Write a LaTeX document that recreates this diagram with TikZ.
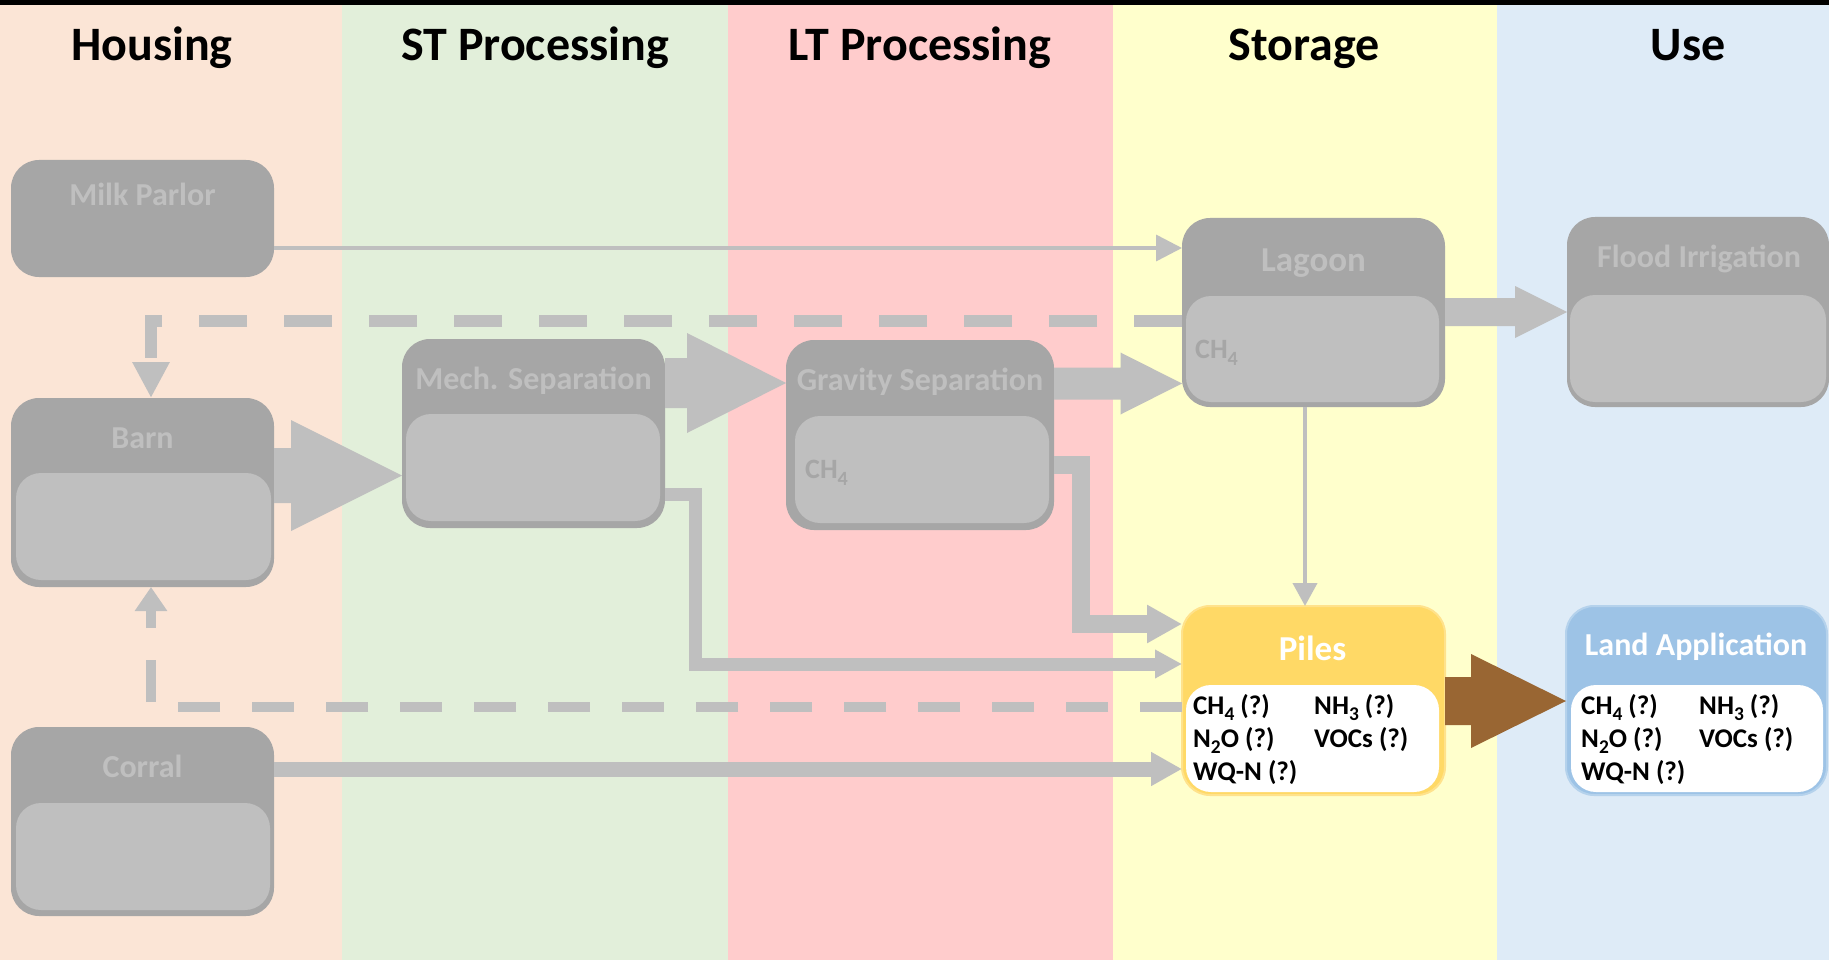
\documentclass[tikz,border=0pt]{standalone}
\usepackage{fontspec}
\setmainfont{Carlito}
\usetikzlibrary{arrows.meta,calc}

% lane and box colours
\definecolor{housingbg}{HTML}{FBE5D6}
\definecolor{stbg}{HTML}{E2EFDA}
\definecolor{ltbg}{HTML}{FFCCCC}
\definecolor{storbg}{HTML}{FFFFCC}
\definecolor{usebg}{HTML}{DEEBF7}
\definecolor{boxdark}{HTML}{A6A6A6}
\definecolor{boxlight}{HTML}{BFBFBF}
\definecolor{arrowgray}{HTML}{BFBFBF}
\definecolor{pilegold}{HTML}{FFD966}
\definecolor{landblue}{HTML}{9DC3E6}
\definecolor{manure}{HTML}{996633}

% chemical subscript, lowered like the slide text
\newcommand\chemsub[1]{\raisebox{-0.25em}{\scalebox{0.72}{#1}}}

\tikzset{
  outerbox/.style={rectangle, rounded corners=28pt, fill=boxdark, inner sep=0pt, outer sep=0pt},
  innerbox/.style={rectangle, rounded corners=25pt, fill=boxlight, inner sep=0pt, outer sep=0pt},
  lanetitle/.style={font=\fontsize{48}{58}\selectfont\bfseries, anchor=base, inner sep=0pt, text=black},
  boxtitle/.style={font=\fontsize{32}{38}\selectfont\bfseries, anchor=base, inner sep=0pt, text=boxlight},
  gasnote/.style={font=\fontsize{28}{33}\selectfont\bfseries, anchor=base west, inner sep=0pt, text=boxdark},
  emis/.style={font=\fontsize{27}{32}\selectfont\bfseries, anchor=base west, inner sep=0pt, text=black},
  flow/.style={draw=arrowgray, line join=miter, line cap=butt},
}

% wide block arrow from the east side of #2 to the west side of #3
% #1 colour, #4 axis y, #5 half shaft, #6 half head, #7 head length
\newcommand\blockflow[7]{%
  \path (#2.east |- 0,#4) coordinate (bf-a) (#3.west |- 0,#4) coordinate (bf-b);
  \fill[#1] ($(bf-a)+(0,-#5)$) -- ($(bf-b)+(-#7,-#5)$) -- ($(bf-b)+(-#7,-#6)$) -- (bf-b)
    -- ($(bf-b)+(-#7,#6)$) -- ($(bf-b)+(-#7,#5)$) -- ($(bf-a)+(0,#5)$) -- cycle;}

\begin{document}
\begin{tikzpicture}[x=1pt,y=-1pt]
\useasboundingbox (0,0) rectangle (1829,960);

% lanes
\fill[housingbg] (0,0) rectangle (342,960);
\fill[stbg] (342,0) rectangle (728,960);
\fill[ltbg] (728,0) rectangle (1113,960);
\fill[storbg] (1113,0) rectangle (1497,960);
\fill[usebg] (1497,0) rectangle (1829,960);
\fill[black] (0,0) rectangle (1829,5);

\node[lanetitle] (h-housing) at (152,61) {Housing};
\node[lanetitle] (h-st) at (535,61) {ST Processing};
\node[lanetitle] (h-lt) at (920,61) {LT Processing};
\node[lanetitle] (h-storage) at (1304,61) {Storage};
\node[lanetitle] (h-use) at (1688,61) {Use};

% housing
\node[outerbox, minimum width=263pt, minimum height=117pt] (milk) at (142.5,218.5) {};
\node[boxtitle] (milk-t) at (142.5,206) {Milk Parlor};

\node[outerbox, minimum width=263pt, minimum height=189pt] (barn) at (142.5,492.5) {};
\node[innerbox, minimum width=255pt, minimum height=107pt] (barn-in) at (143.5,526.5) {};
\node[boxtitle] (barn-t) at (142.5,448) {Barn};

\node[outerbox, minimum width=263pt, minimum height=189pt] (corral) at (142.5,821.5) {};
\node[innerbox, minimum width=254pt, minimum height=107pt] (corral-in) at (143,856.5) {};
\node[boxtitle] (corral-t) at (142.5,777) {Corral};

% processing
\node[outerbox, minimum width=263pt, minimum height=189pt] (mech) at (533.5,433.5) {};
\node[innerbox, minimum width=254pt, minimum height=107pt] (mech-in) at (533,467.5) {};
\node[boxtitle] (mech-t) at (533.5,389) {Mech. Separation};

\node[outerbox, minimum width=268pt, minimum height=190pt] (grav) at (920,435) {};
\node[innerbox, minimum width=254pt, minimum height=107pt] (grav-in) at (922,469.5) {};
\node[boxtitle] (grav-t) at (920,390) {Gravity Separation};
\node[gasnote] (grav-g) at (805,478) {CH\chemsub{4}};

% storage
\node[outerbox, minimum width=263pt, minimum height=189pt] (lagoon) at (1313.5,312.5) {};
\node[innerbox, minimum width=253pt, minimum height=106pt] (lagoon-in) at (1312.5,349) {};
\node[boxtitle, font=\fontsize{35}{42}\selectfont\bfseries] (lagoon-t) at (1313.5,272) {Lagoon};
\node[gasnote] (lagoon-g) at (1195,358) {CH\chemsub{4}};

\node[outerbox, fill=pilegold, draw=pilegold!75!white, line width=2pt, minimum width=263pt, minimum height=189pt] (piles) at (1313.5,700.5) {};
\node[innerbox, fill=white, minimum width=253pt, minimum height=107pt] (piles-in) at (1312.5,738.5) {};
\node[boxtitle, text=white, font=\fontsize{35}{42}\selectfont\bfseries] (piles-t) at (1312.5,660) {Piles};
\node[emis] (p1) at (1193,714) {CH\chemsub{4} (?)};
\node[emis] (p2) at (1314,714) {NH\chemsub{3} (?)};
\node[emis] (p3) at (1193,747) {N\chemsub{2}O (?)};
\node[emis] (p4) at (1314,747) {VOCs (?)};
\node[emis] (p5) at (1193,780) {WQ-N (?)};

% use
\node[outerbox, minimum width=262pt, minimum height=190pt] (flood) at (1698,312) {};
\node[innerbox, minimum width=256pt, minimum height=107pt] (flood-in) at (1698,348.5) {};
\node[boxtitle] (flood-t) at (1699,268) {Flood Irrigation};

\node[outerbox, fill=landblue, draw=landblue!75!white, line width=2pt, minimum width=261pt, minimum height=189pt] (land) at (1696.5,700.5) {};
\node[innerbox, fill=white, minimum width=252pt, minimum height=107pt] (land-in) at (1697,738.5) {};
\node[boxtitle, text=white] (land-t) at (1696,655) {Land Application};
\node[emis] (l1) at (1581,714) {CH\chemsub{4} (?)};
\node[emis] (l2) at (1699,714) {NH\chemsub{3} (?)};
\node[emis] (l3) at (1581,747) {N\chemsub{2}O (?)};
\node[emis] (l4) at (1699,747) {VOCs (?)};
\node[emis] (l5) at (1581,780) {WQ-N (?)};

% main block flows
\blockflow{arrowgray}{barn}{mech}{475.5}{27.5}{55.5}{111}
\blockflow{arrowgray}{mech}{grav}{383}{25}{50}{99}
\blockflow{arrowgray}{grav}{lagoon}{383.5}{16}{31}{61.5}
\blockflow{arrowgray}{lagoon}{flood}{312}{14}{26}{52}
\blockflow{manure}{piles}{land}{701}{24}{47}{95}

% line flows
\draw[flow, line width=3.5pt, -{Triangle[length=26pt,width=26pt]}]
  (milk.east |- 0,248) -- (lagoon.west |- 0,248);
\draw[flow, line width=4pt, -{Triangle[length=23pt,width=24pt]}]
  (lagoon.south -| 1305,0) -- (piles.north -| 1305,0);
\draw[flow, line width=18pt, -{Triangle[length=35pt,width=36pt]}]
  (grav.east |- 0,465) -| (1081,624) -- (piles.west |- 0,624);
\draw[flow, line width=13pt, -{Triangle[length=27pt,width=27pt]}]
  (mech.east |- 0,494) -| (695,664) -- (piles.west |- 0,664);
\draw[flow, line width=15pt, -{Triangle[length=31pt,width=32pt]}]
  (corral.east |- 0,769) -- (piles.west |- 0,769);

% return flows to the barn
\draw[flow, line width=12pt, dash pattern=on 48pt off 37pt, -{Triangle[length=36pt,width=35pt]}]
  (lagoon.west |- 0,321) -| (barn.north -| 151,0);
\draw[flow, line width=10.5pt, dash pattern=on 42pt off 32pt, -{Triangle[length=24pt,width=31pt]}]
  (piles.west |- 0,707) -| (barn.south -| 151,0);
\end{tikzpicture}
\end{document}
